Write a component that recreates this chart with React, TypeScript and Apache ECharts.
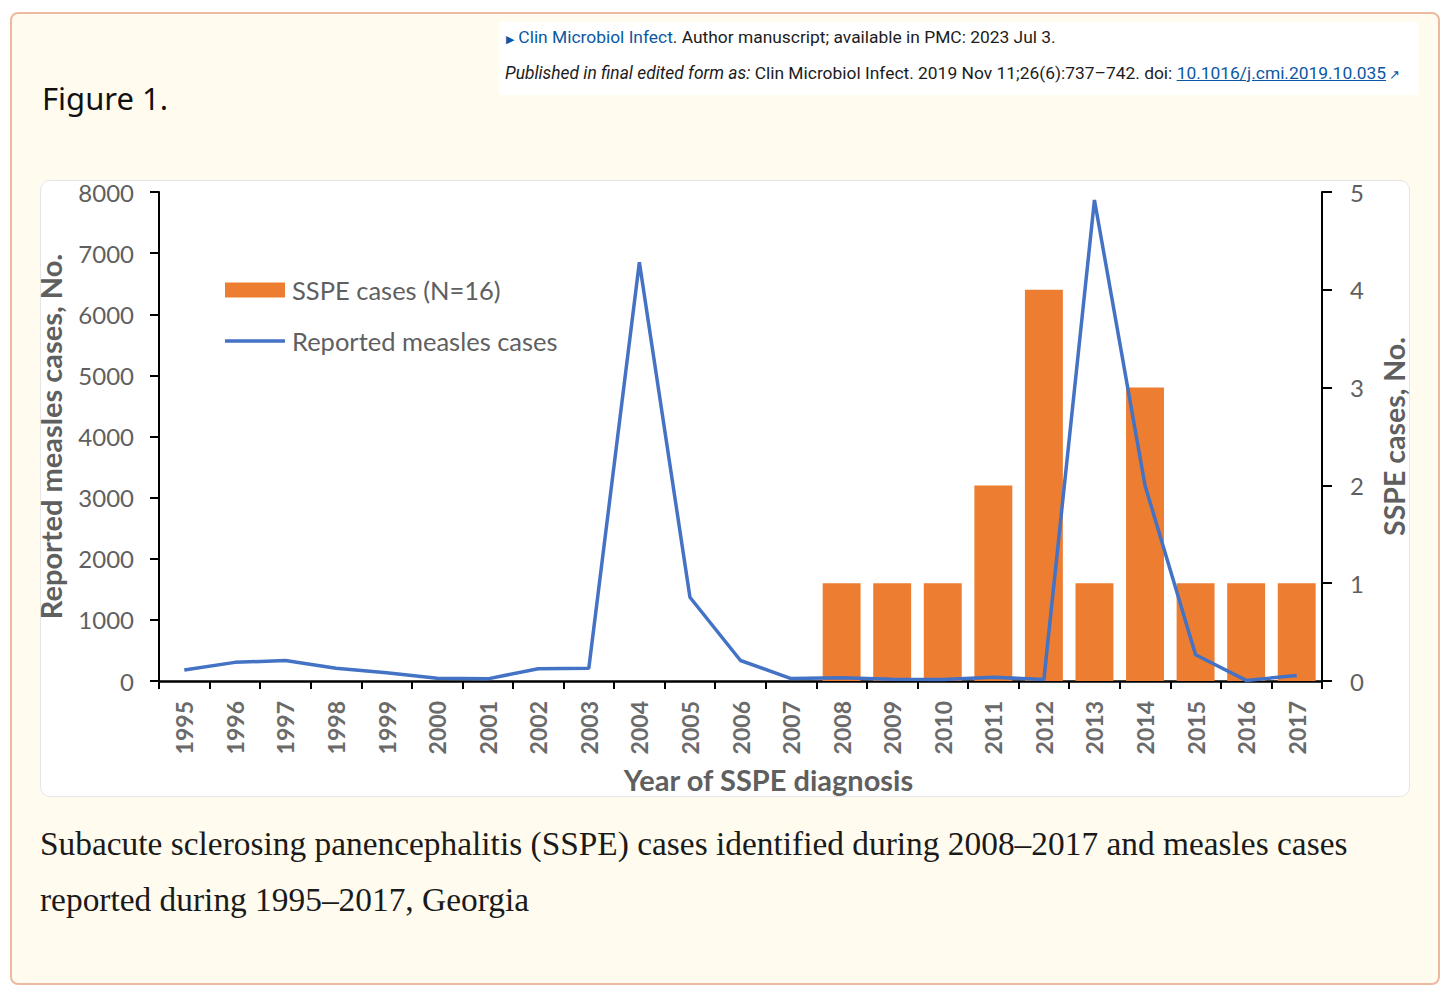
import React, { useEffect, useRef } from "react";
import * as echarts from "echarts";

const years = ["1995","1996","1997","1998","1999","2000","2001","2002","2003","2004","2005","2006","2007","2008","2009","2010","2011","2012","2013","2014","2015","2016","2017"];
const measlesCases = [180, 305, 335, 210, 135, 45, 35, 200, 210, 6850, 1370, 335, 40, 55, 30, 25, 60, 25, 7870, 3200, 430, 10, 90];
const ssepCases = [null, null, null, null, null, null, null, null, null, null, null, null, null, 1, 1, 1, 2, 4, 1, 3, 1, 1, 1];
const leftTicks = { min: 0, max: 8000, interval: 1000 };
const rightTicks = { min: 0, max: 5, interval: 1 };

const FONT = "Lato, 'Noto Sans', sans-serif";
const GRAY = "#5f5f5f";
const LINE_ICON = "path://M0,0 M60,15 M0,5.75 L60,5.75 L60,9.25 L0,9.25 Z";

function Chart() {
  const ref = useRef<HTMLDivElement>(null);
  useEffect(() => {
    if (!ref.current) return;
    const chart = echarts.init(ref.current, undefined, { renderer: "svg" });
    chart.setOption({
      animation: false,
      textStyle: { fontFamily: FONT },
      grid: { left: 139, right: 118, top: 27, bottom: 134, outerBoundsMode: "none", containLabel: false },
      legend: {
        orient: "vertical",
        left: 205,
        top: 112,
        padding: 0,
        itemWidth: 60,
        itemHeight: 15,
        itemGap: 25,
        textStyle: { fontSize: 25.5, color: GRAY, fontFamily: FONT, padding: [0, 0, 0, 2] },
        data: [
          { name: "SSPE cases (N=16)", icon: "rect" },
          { name: "Reported measles cases", icon: LINE_ICON },
        ],
      },
      xAxis: {
        type: "category",
        data: years,
        name: "Year of SSPE diagnosis",
        nameLocation: "middle",
        nameGap: 84,
        nameTextStyle: { fontSize: 29, fontWeight: "bold", color: GRAY, padding: [0, 0, 0, 56] },
        axisLine: { lineStyle: { color: "#000", width: 2.5 } },
        axisTick: { show: true, length: 8, lineStyle: { color: "#000", width: 2 } },
        axisLabel: { rotate: 90, fontSize: 23, fontWeight: "bold", color: "#6a6a6a", margin: 20, interval: 0 },
      },
      yAxis: [
        {
          type: "value",
          position: "left",
          min: leftTicks.min,
          max: leftTicks.max,
          interval: leftTicks.interval,
          name: "Reported measles cases, No.",
          nameLocation: "middle",
          nameGap: 94,
          nameRotate: 90,
          nameTextStyle: { fontSize: 29, fontWeight: "bold", color: GRAY },
          axisLine: { show: true, lineStyle: { color: "#000", width: 2 } },
          axisTick: { show: true, length: 9, lineStyle: { color: "#000", width: 2 } },
          axisLabel: { fontSize: 24, color: GRAY, margin: 25, formatter: (v: number) => String(v) },
          splitLine: { show: false },
        },
        {
          type: "value",
          position: "right",
          min: rightTicks.min,
          max: rightTicks.max,
          interval: rightTicks.interval,
          name: "SSPE cases, No.",
          nameLocation: "middle",
          nameGap: 57,
          nameRotate: 90,
          nameTextStyle: { fontSize: 28.5, fontWeight: "bold", color: GRAY },
          axisLine: { show: true, lineStyle: { color: "#000", width: 2 } },
          axisTick: { show: true, length: 10, lineStyle: { color: "#000", width: 2 } },
          axisLabel: { fontSize: 24, color: GRAY, margin: 28 },
          splitLine: { show: false },
        },
      ],
      series: [
        {
          name: "SSPE cases (N=16)",
          type: "bar",
          yAxisIndex: 1,
          data: ssepCases,
          barCategoryGap: "25%",
          itemStyle: { color: "#ED7D31" },
          z: 1,
        },
        {
          name: "Reported measles cases",
          type: "line",
          yAxisIndex: 0,
          data: measlesCases,
          symbol: "none",
          showSymbol: false,
          lineStyle: { color: "#4472C4", width: 3.5 },
          itemStyle: { color: "#4472C4" },
          z: 3,
        },
      ],
    });
    return () => chart.dispose();
  }, []);
  return <div ref={ref} style={{ position: "absolute", left: 20, top: 165, width: 1420, height: 650 }} />;
}

export default function App() {
  const link = "#0b57a4";
  return (
    <div style={{ position: "absolute", left: 0, top: 0, width: 1456, height: 997, background: "#ffffff", overflow: "hidden" }}>
      <div
        style={{
          position: "absolute",
          left: 10,
          top: 12,
          width: 1430,
          height: 973,
          boxSizing: "border-box",
          background: "#fffcef",
          border: "2px solid #edb9a0",
          borderRadius: 8,
        }}
      />
      <div
        style={{
          position: "absolute",
          left: 499,
          top: 22,
          width: 919,
          height: 73,
          background: "#ffffff",
          fontFamily: "Roboto, 'Noto Sans', sans-serif",
          fontSize: 17.4,
          color: "#1c1c1c",
          whiteSpace: "nowrap",
        }}
      >
        <div style={{ position: "absolute", left: 7, top: 3, lineHeight: "24px" }}>
          <span style={{ color: link, fontSize: 11 }}>▶</span>{" "}
          <span style={{ color: link }}>Clin Microbiol Infect</span>. Author manuscript; available in PMC: 2023 Jul 3.
        </div>
        <div style={{ position: "absolute", left: 6, top: 39, lineHeight: "24px" }}>
          <i>Published in final edited form as:</i> Clin Microbiol Infect. 2019 Nov 11;26(6):737–742. doi:{" "}
          <span style={{ color: link, textDecoration: "underline" }}>10.1016/j.cmi.2019.10.035</span>
          <span style={{ color: link, fontSize: 13 }}> ↗</span>
        </div>
      </div>
      <div
        style={{
          position: "absolute",
          left: 42,
          top: 78,
          fontFamily: "'Noto Sans', sans-serif",
          fontSize: 31,
          lineHeight: "40px",
          color: "#111",
        }}
      >
        Figure 1.
      </div>
      <div
        style={{
          position: "absolute",
          left: 40,
          top: 180,
          width: 1370,
          height: 617,
          boxSizing: "border-box",
          background: "#ffffff",
          border: "1px solid #e6e6e6",
          borderRadius: 10,
        }}
      />
      <Chart />
      <div
        style={{
          position: "absolute",
          left: 40,
          top: 816,
          fontFamily: "'Liberation Serif', serif",
          fontSize: 33.4,
          lineHeight: "56px",
          color: "#1a1a1a",
          whiteSpace: "nowrap",
        }}
      >
        Subacute sclerosing panencephalitis (SSPE) cases identified during 2008–2017 and measles cases
        <br />
        reported during 1995–2017, Georgia
      </div>
    </div>
  );
}
